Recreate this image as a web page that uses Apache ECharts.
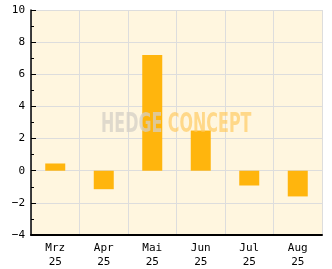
<!DOCTYPE html>
<html><head><meta charset="utf-8">
<script src="https://cdn.jsdelivr.net/npm/echarts@6/dist/echarts.min.js"></script>
<style>html,body{margin:0;padding:0;background:#fff}#c{width:332px;height:269px}</style>
</head><body><div id="c"></div>
<script>
const categories = ['Mrz\n25','Apr\n25','Mai\n25','Jun\n25','Jul\n25','Aug\n25'];
const values = [0.45, -1.15, 7.2, 2.5, -0.92, -1.6];
const yTicks = {min: -4, max: 10, interval: 2};

const chart = echarts.init(document.getElementById('c'), null, {renderer: 'canvas'});
const font = '"DejaVu Sans Mono", monospace';
const wmFont = '"DejaVu Sans Condensed", "Liberation Sans Narrow", sans-serif';
chart.setOption({
  animation: false,
  backgroundColor: '#ffffff',
  grid: {left: 31, top: 10, right: 10, bottom: 32, show: true, backgroundColor: '#FFF6DF', borderWidth: 0},
  xAxis: {
    type: 'category', data: categories,
    axisLine: {onZero: false, lineStyle: {color: '#000', width: 2}},
    axisTick: {inside: true, length: 5, lineStyle: {color: '#000', width: 1}},
    splitLine: {show: true, lineStyle: {color: '#dddddd', width: 1}},
    axisLabel: {color: '#000', fontSize: 11, fontFamily: font, margin: 6, lineHeight: 14}
  },
  yAxis: {
    type: 'value', min: yTicks.min, max: yTicks.max, interval: yTicks.interval,
    axisLine: {show: true, lineStyle: {color: '#000', width: 1.5}},
    axisTick: {show: true, inside: true, length: 5, lineStyle: {color: '#000'}},
    minorTick: {show: true, splitNumber: 2, length: 3, lineStyle: {color: '#000'}},
    splitLine: {show: true, lineStyle: {color: '#dddddd', width: 1}},
    axisLabel: {color: '#000', fontSize: 11, fontFamily: font, margin: 6,
      formatter: v => String(v).replace('-', '\u2212')}
  },
  series: [{
    type: 'bar', data: values, barWidth: 20,
    itemStyle: {color: '#FFB50D'}
  }],
  graphic: [{
    type: 'text', x: 101, y: 112, scaleX: 0.68, z: 100, silent: true,
    style: {
      text: '{a|HEDGE}{b| CONCEPT}',
      rich: {
        a: {fontFamily: wmFont, fontWeight: 'bold', fontSize: 26, fill: 'rgba(212,207,198,0.75)'},
        b: {fontFamily: wmFont, fontWeight: 'bold', fontSize: 26, fill: 'rgba(255,200,90,0.65)'}
      }
    }
  }]
});
</script></body></html>
